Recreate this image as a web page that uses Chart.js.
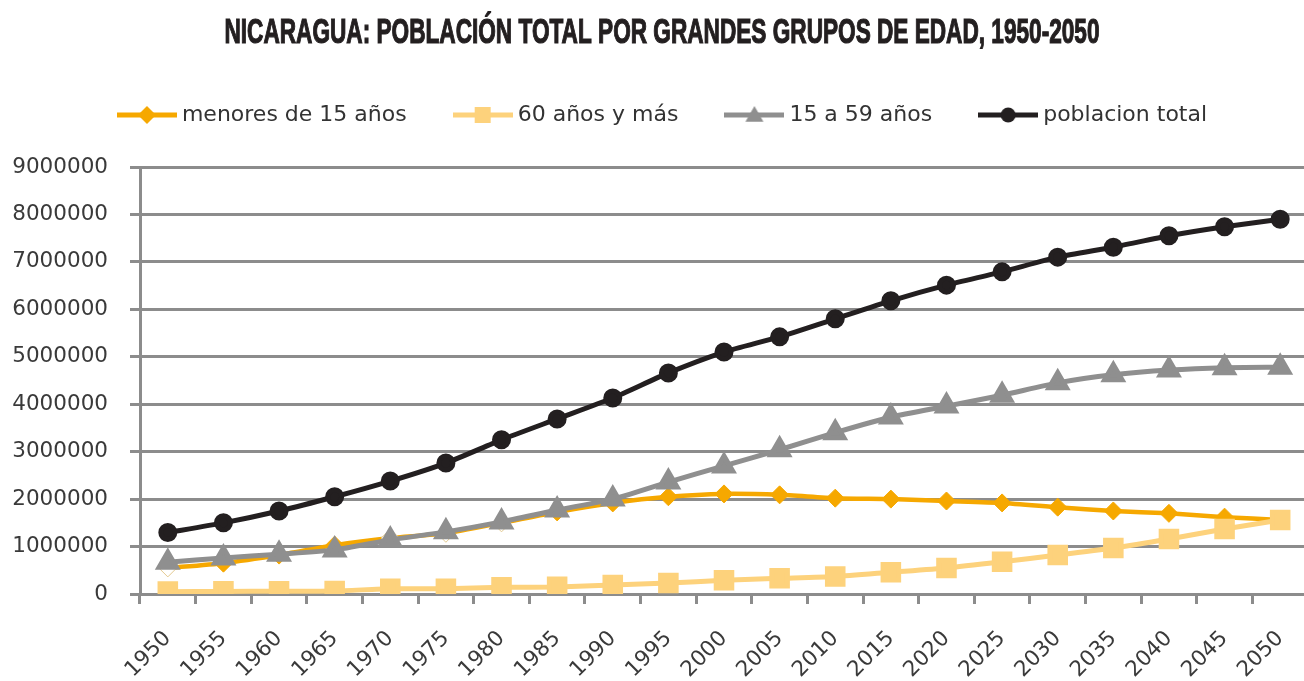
<!DOCTYPE html>
<html>
<head>
<meta charset="utf-8">
<script src="https://cdn.jsdelivr.net/npm/chart.js@4.4.1/dist/chart.umd.min.js"></script>
<style>
  html, body { margin: 0; padding: 0; background: #fff; overflow: hidden; }
</style>
</head>
<body>
<canvas id="chart" width="1330" height="681"></canvas>
<script>
// DATA
const years = ['1950', '1955', '1960', '1965', '1970', '1975', '1980', '1985', '1990', '1995', '2000',
               '2005', '2010', '2015', '2020', '2025', '2030', '2035', '2040', '2045', '2050'];
const menores15 = [550000, 650000, 820000, 1030000, 1180000, 1280000, 1500000, 1730000, 1920000, 2050000, 2110000,
                   2090000, 2020000, 2000000, 1960000, 1920000, 1830000, 1750000, 1700000, 1620000, 1560000];
const mayores60 = [50000, 55000, 60000, 65000, 110000, 110000, 140000, 150000, 190000, 230000, 290000,
                   330000, 370000, 460000, 550000, 680000, 820000, 970000, 1160000, 1370000, 1560000];
const adultos15a59 = [670000, 760000, 840000, 930000, 1140000, 1310000, 1520000, 1770000, 2000000, 2360000, 2700000,
                      3040000, 3400000, 3730000, 3960000, 4190000, 4450000, 4620000, 4720000, 4770000, 4780000];
const poblacionTotal = [1295000, 1500000, 1750000, 2050000, 2380000, 2760000, 3250000, 3690000, 4130000, 4660000, 5100000,
                        5420000, 5800000, 6180000, 6510000, 6790000, 7100000, 7310000, 7550000, 7740000, 7900000];
const yTicks = [0, 1000000, 2000000, 3000000, 4000000, 5000000, 6000000, 7000000, 8000000, 9000000];
const titulo = 'NICARAGUA: POBLACIÓN TOTAL POR GRANDES GRUPOS DE EDAD, 1950-2050';

const ORANGE = '#f6a800';
const LIGHT = '#fdd27c';
const GREY = '#8f8f8f';
const BLACK = '#231f20';
const GRID = '#8c8c8c';

Chart.defaults.font.family = 'DejaVu Sans';
Chart.defaults.font.size = 21.5;
Chart.defaults.color = '#3a3a3a';

// legend icon: line with marker in the middle
function legendIcon(color, style, r) {
    const c = document.createElement('canvas');
    c.width = 60;
    c.height = 24;
    const g = c.getContext('2d');
    g.strokeStyle = color;
    g.fillStyle = color;
    g.lineWidth = 5;
    g.beginPath();
    g.moveTo(0, 12);
    g.lineTo(60, 12);
    g.stroke();
    const x = 30, y = 12;
    g.beginPath();
    if (style === 'circle') {
        g.arc(x, y, r, 0, Math.PI * 2);
    } else if (style === 'rect') {
        g.rect(x - r, y - r, 2 * r, 2 * r);
    } else if (style === 'rectRot') {
        g.moveTo(x, y - r); g.lineTo(x + r, y); g.lineTo(x, y + r); g.lineTo(x - r, y); g.closePath();
    } else {
        g.moveTo(x, y - r); g.lineTo(x + r, y + r * 0.75); g.lineTo(x - r, y + r * 0.75); g.closePath();
    }
    g.fill();
    return c;
}

const icons = [
    legendIcon(ORANGE, 'rectRot', 9),
    legendIcon(LIGHT, 'rect', 8),
    legendIcon(GREY, 'triangle', 9),
    legendIcon(BLACK, 'circle', 7.5)
];

// a few under-15 markers are white in the original
const whiteIdx = [0, 4, 5, 6];
const menoresFill = years.map((y, i) => whiteIdx.includes(i) ? '#ffffff' : ORANGE);
const menoresBorder = years.map((y, i) => whiteIdx.includes(i) ? '#e3c98f' : ORANGE);

// extra space under the legend, and nudge it a little to the right
const legendSpacer = {
    id: 'legendSpacer',
    beforeInit(chart) {
        const lg = chart.legend;
        const fit = lg.fit;
        lg.fit = function () {
            fit.bind(lg)();
            this.height += 31;
        };
        const draw = lg.draw;
        lg.draw = function () {
            chart.ctx.save();
            chart.ctx.translate(6, 0);
            draw.bind(lg)();
            chart.ctx.restore();
        };
    }
};

// condensed bold title
const condensedTitle = {
    id: 'condensedTitle',
    afterDraw(chart) {
        const ctx = chart.ctx;
        ctx.save();
        ctx.font = 'bold 35px "Liberation Sans"';
        ctx.fillStyle = BLACK;
        ctx.strokeStyle = BLACK;
        ctx.lineWidth = 1.2;
        ctx.textAlign = 'center';
        ctx.textBaseline = 'alphabetic';
        const w = ctx.measureText(titulo).width;
        ctx.translate(662, 43);
        ctx.scale(875 / w, 1);
        ctx.fillText(titulo, 0, 0);
        ctx.strokeText(titulo, 0, 0);
        ctx.restore();
    }
};

new Chart(document.getElementById('chart'), {
    type: 'line',
    data: {
        labels: years,
        datasets: [
            {
                label: 'menores de 15 años',
                data: menores15,
                order: 4,
                borderColor: ORANGE,
                borderWidth: 4.5,
                pointStyle: 'rectRot',
                pointRadius: 9,
                pointBackgroundColor: menoresFill,
                pointBorderColor: menoresBorder,
                pointBorderWidth: 1,
                tension: 0.2
            },
            {
                label: '60 años y más',
                data: mayores60,
                order: 3,
                borderColor: LIGHT,
                borderWidth: 5,
                pointStyle: 'rect',
                pointRadius: 11,
                pointBackgroundColor: LIGHT,
                pointBorderColor: LIGHT,
                tension: 0.2
            },
            {
                label: '15 a 59 años',
                data: adultos15a59,
                order: 2,
                borderColor: GREY,
                borderWidth: 5,
                pointStyle: 'triangle',
                pointRadius: 10,
                pointBackgroundColor: GREY,
                pointBorderColor: GREY,
                tension: 0.2
            },
            {
                label: 'poblacion total',
                data: poblacionTotal,
                order: 1,
                borderColor: BLACK,
                borderWidth: 5,
                pointStyle: 'circle',
                pointRadius: 7,
                pointBackgroundColor: BLACK,
                pointBorderColor: BLACK,
                tension: 0.2
            }
        ]
    },
    options: {
        responsive: false,
        animation: false,
        layout: { padding: { left: 10, right: 22, top: 52, bottom: 0 } },
        plugins: {
            title: { display: false },
            legend: {
                labels: {
                    usePointStyle: true,
                    pointStyleWidth: 48,
                    padding: 52,
                    color: '#333333',
                    font: { size: 22 },
                    sort: (a, b) => a.datasetIndex - b.datasetIndex,
                    generateLabels(chart) {
                        const items = Chart.defaults.plugins.legend.labels.generateLabels(chart);
                        items.forEach(it => { it.pointStyle = icons[it.datasetIndex]; });
                        return items;
                    }
                }
            },
            tooltip: { enabled: false }
        },
        scales: {
            x: {
                offset: true,
                grid: { offset: true, drawOnChartArea: false, drawTicks: true, tickLength: 10, color: GRID, lineWidth: 3 },
                border: { color: GRID, width: 3 },
                ticks: { minRotation: 45, maxRotation: 45, padding: 22, color: '#3a3a3a', autoSkip: false },
                afterFit(scale) { scale.height = 87; }
            },
            y: {
                min: 0,
                max: 9000000,
                afterBuildTicks(scale) { scale.ticks = yTicks.map(v => ({ value: v })); },
                grid: { color: GRID, lineWidth: 3, tickLength: 10 },
                border: { color: GRID, width: 3 },
                ticks: { padding: 22, color: '#3a3a3a', callback: v => String(v) },
                afterFit(scale) { scale.width = 130; }
            }
        }
    },
    plugins: [legendSpacer, condensedTitle]
});
</script>
</body>
</html>
